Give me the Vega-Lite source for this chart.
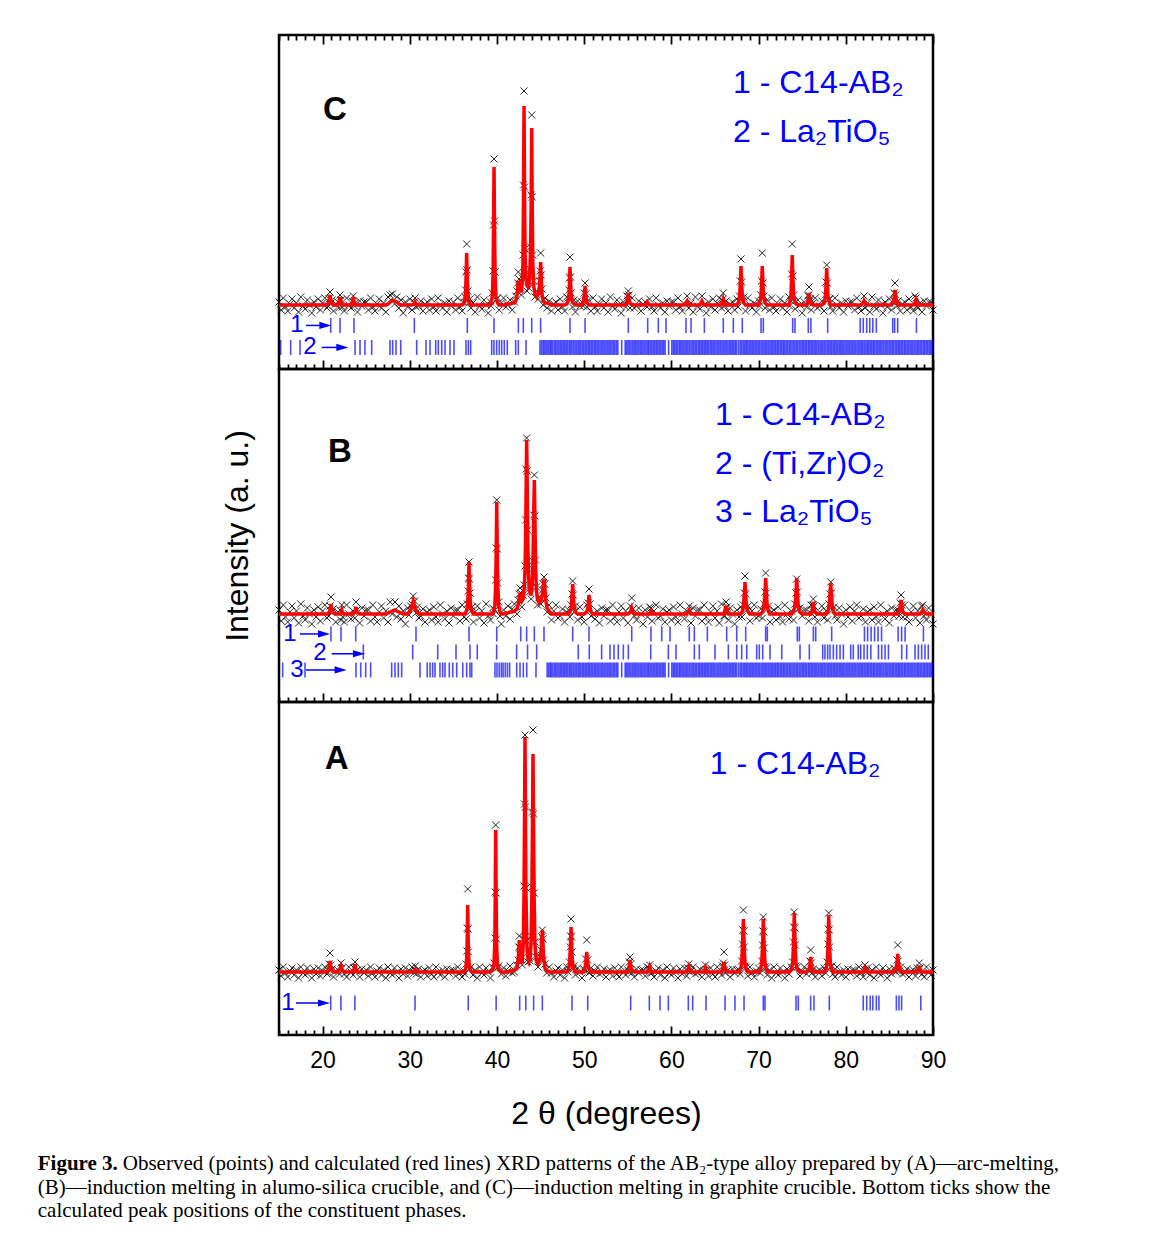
{
"$schema": "https://vega.github.io/schema/vega-lite/v6.json",
"background": "white",
"padding": {"left": 37, "top": 32, "right": 10, "bottom": 10},
"title": {
  "text": "Figure 3.",
  "subtitle": ["(B)\u2014induction melting in alumo-silica crucible, and (C)\u2014induction melting in graphite crucible. Bottom ticks show the", "calculated peak positions of the constituent phases."],
  "orient": "bottom", "anchor": "start", "frame": "bounds",
  "font": "Liberation Serif", "fontSize": 21, "fontWeight": "bold", "color": "#000",
  "subtitleFont": "Liberation Serif", "subtitleFontSize": 21, "subtitleColor": "#000", "subtitleFontWeight": "normal",
  "subtitleLineHeight": 23.5, "subtitlePadding": 2.5,
  "dx": -85, "offset": -21
},
"vconcat": [
{
"spacing": 0,
"bounds": "flush",
"title": {
  "text": "Observed (points) and calculated (red lines) XRD patterns of the AB\u2082-type alloy prepared by (A)\u2014arc-melting,",
  "orient": "bottom", "anchor": "start", "frame": "bounds",
  "font": "Liberation Serif", "fontSize": 21, "fontWeight": "normal", "color": "#000",
  "dx": -97, "offset": 23
},
"vconcat": [
{
  "width": 654, "height": 334,
  "resolve": {"scale": {"y": "independent"}, "axis": {"x": "independent"}},
  "layer": [
    {"data": {"name": "pC"}, "mark": {"type": "point", "shape": "M-1,-1L1,1M-1,1L1,-1", "filled": false, "size": 50, "color": "#000", "strokeWidth": 1, "opacity": 0.85},
     "encoding": {"x": {"field": "x", "type": "quantitative", "scale": {"domain": [15, 90], "nice": false, "zero": false},
        "axis": {"orient": "bottom", "values": [15,16,17,18,19,20,21,22,23,24,25,26,27,28,29,30,31,32,33,34,35,36,37,38,39,40,41,42,43,44,45,46,47,48,49,50,51,52,53,54,55,56,57,58,59,60,61,62,63,64,65,66,67,68,69,70,71,72,73,74,75,76,77,78,79,80,81,82,83,84,85,86,87,88,89,90],
          "tickSize": {"condition": {"test": "datum.value % 10 === 0", "value": -9}, "value": -5}, "labels": false, "title": null}},
       "y": {"field": "o", "type": "quantitative", "scale": {"domain": [-64, 270], "nice": false, "zero": false}, "axis": null}}},
    {"data": {"name": "pC"}, "mark": {"type": "line", "color": "#ff0000", "strokeWidth": 3.5},
     "encoding": {"x": {"field": "x", "type": "quantitative", "scale": {"domain": [15, 90], "nice": false, "zero": false}, "axis": null},
       "y": {"field": "c", "type": "quantitative", "scale": {"domain": [-64, 270], "nice": false, "zero": false}, "axis": null}}},
    {"data": {"values": [{}]}, "mark": {"type": "text", "text": "C", "fontSize": 33, "fontWeight": "bold", "color": "#000", "align": "center", "baseline": "alphabetic"},
     "encoding": {"x": {"datum": 21.42, "type": "quantitative", "axis": null}, "y": {"datum": 185, "type": "quantitative", "scale": {"domain": [-64, 270], "nice": false, "zero": false}, "axis": null}}},
    {"data": {"values": [{}]}, "mark": {"type": "text", "text": ["1 - C14-AB\u2082", "2 - La\u2082TiO\u2085"], "fontSize": 32, "color": "#0000ff", "align": "left", "baseline": "alphabetic", "lineHeight": 48.5},
     "encoding": {"x": {"datum": 67.06, "type": "quantitative", "axis": null}, "y": {"datum": 211.7, "type": "quantitative", "scale": {"domain": [-64, 270], "nice": false, "zero": false}, "axis": null}}},
    {"data": {"name": "tC"}, "mark": {"type": "tick", "orient": "vertical", "size": 15, "thickness": 1.6, "color": "#0000ff"},
     "encoding": {"x": {"field": "x", "type": "quantitative", "scale": {"domain": [15, 90], "nice": false, "zero": false},
        "axis": {"orient": "top", "values": [15,16,17,18,19,20,21,22,23,24,25,26,27,28,29,30,31,32,33,34,35,36,37,38,39,40,41,42,43,44,45,46,47,48,49,50,51,52,53,54,55,56,57,58,59,60,61,62,63,64,65,66,67,68,69,70,71,72,73,74,75,76,77,78,79,80,81,82,83,84,85,86,87,88,89,90],
          "tickSize": {"condition": {"test": "datum.value % 10 === 0", "value": -9}, "value": -5}, "labels": false, "title": null}},
       "y": {"field": "p", "type": "quantitative", "scale": {"domain": [-12.2, 2.98], "reverse": true, "nice": false, "zero": false}, "axis": null}}},
    {"data": {"values": [{}]}, "mark": {"type": "text", "text": "1", "fontSize": 24, "color": "#0000ff", "align": "center", "baseline": "middle"},
     "encoding": {"x": {"datum": 17.06, "type": "quantitative", "axis": null}, "y": {"datum": 1, "type": "quantitative", "scale": {"domain": [-12.2, 2.98], "reverse": true, "nice": false, "zero": false}, "axis": null}}},
    {"data": {"values": [{}]}, "mark": {"type": "rule", "color": "#0000ff", "strokeWidth": 1.5},
     "encoding": {"x": {"datum": 18.1, "type": "quantitative", "axis": null}, "x2": {"datum": 20.4}, "y": {"datum": 1, "type": "quantitative", "scale": {"domain": [-12.2, 2.98], "reverse": true, "nice": false, "zero": false}, "axis": null}}},
    {"data": {"values": [{}]}, "mark": {"type": "point", "shape": "M-1,-0.6L1,0L-1,0.6Z", "filled": true, "size": 144, "color": "#0000ff", "opacity": 1},
     "encoding": {"x": {"datum": 20.31, "type": "quantitative", "axis": null}, "y": {"datum": 1, "type": "quantitative", "scale": {"domain": [-12.2, 2.98], "reverse": true, "nice": false, "zero": false}, "axis": null}}},
    {"data": {"values": [{}]}, "mark": {"type": "text", "text": "2", "fontSize": 24, "color": "#0000ff", "align": "center", "baseline": "middle"},
     "encoding": {"x": {"datum": 18.55, "type": "quantitative", "axis": null}, "y": {"datum": 2, "type": "quantitative", "scale": {"domain": [-12.2, 2.98], "reverse": true, "nice": false, "zero": false}, "axis": null}}},
    {"data": {"values": [{}]}, "mark": {"type": "rule", "color": "#0000ff", "strokeWidth": 1.5},
     "encoding": {"x": {"datum": 19.9, "type": "quantitative", "axis": null}, "x2": {"datum": 22.3}, "y": {"datum": 2, "type": "quantitative", "scale": {"domain": [-12.2, 2.98], "reverse": true, "nice": false, "zero": false}, "axis": null}}},
    {"data": {"values": [{}]}, "mark": {"type": "point", "shape": "M-1,-0.6L1,0L-1,0.6Z", "filled": true, "size": 144, "color": "#0000ff", "opacity": 1},
     "encoding": {"x": {"datum": 22.26, "type": "quantitative", "axis": null}, "y": {"datum": 2, "type": "quantitative", "scale": {"domain": [-12.2, 2.98], "reverse": true, "nice": false, "zero": false}, "axis": null}}}
  ]
},
{
  "width": 654, "height": 333,
  "resolve": {"scale": {"y": "independent"}, "axis": {"x": "independent"}},
  "layer": [
    {"data": {"name": "pB"}, "mark": {"type": "point", "shape": "M-1,-1L1,1M-1,1L1,-1", "filled": false, "size": 50, "color": "#000", "strokeWidth": 1, "opacity": 0.85},
     "encoding": {"x": {"field": "x", "type": "quantitative", "scale": {"domain": [15, 90], "nice": false, "zero": false},
        "axis": {"orient": "bottom", "values": [15,16,17,18,19,20,21,22,23,24,25,26,27,28,29,30,31,32,33,34,35,36,37,38,39,40,41,42,43,44,45,46,47,48,49,50,51,52,53,54,55,56,57,58,59,60,61,62,63,64,65,66,67,68,69,70,71,72,73,74,75,76,77,78,79,80,81,82,83,84,85,86,87,88,89,90],
          "tickSize": {"condition": {"test": "datum.value % 10 === 0", "value": -9}, "value": -5}, "labels": false, "title": null}},
       "y": {"field": "o", "type": "quantitative", "scale": {"domain": [-88, 245], "nice": false, "zero": false},
         "axis": {"title": "Intensity (a. u.)", "ticks": false, "labels": false, "domain": false, "grid": false, "titleFontSize": 32, "titlePadding": 25, "titleFontWeight": "normal", "titleColor": "#000", "titleFont": "Liberation Sans"}}}},
    {"data": {"name": "pB"}, "mark": {"type": "line", "color": "#ff0000", "strokeWidth": 3.5},
     "encoding": {"x": {"field": "x", "type": "quantitative", "scale": {"domain": [15, 90], "nice": false, "zero": false}, "axis": null},
       "y": {"field": "c", "type": "quantitative", "scale": {"domain": [-88, 245], "nice": false, "zero": false}, "axis": null}}},
    {"data": {"values": [{}]}, "mark": {"type": "text", "text": "B", "fontSize": 33, "fontWeight": "bold", "color": "#000", "align": "center", "baseline": "alphabetic"},
     "encoding": {"x": {"datum": 22.0, "type": "quantitative", "axis": null}, "y": {"datum": 152.3, "type": "quantitative", "scale": {"domain": [-88, 245], "nice": false, "zero": false}, "axis": null}}},
    {"data": {"values": [{}]}, "mark": {"type": "text", "text": ["1 - C14-AB\u2082", "2 - (Ti,Zr)O\u2082", "3 - La\u2082TiO\u2085"], "fontSize": 32, "color": "#0000ff", "align": "left", "baseline": "alphabetic", "lineHeight": 48.5},
     "encoding": {"x": {"datum": 65.0, "type": "quantitative", "axis": null}, "y": {"datum": 189, "type": "quantitative", "scale": {"domain": [-88, 245], "nice": false, "zero": false}, "axis": null}}},
    {"data": {"name": "tB"}, "mark": {"type": "tick", "orient": "vertical", "size": 15, "thickness": 1.6, "color": "#0000ff"},
     "encoding": {"x": {"field": "x", "type": "quantitative", "scale": {"domain": [15, 90], "nice": false, "zero": false}, "axis": null},
       "y": {"field": "p", "type": "quantitative", "scale": {"domain": [-13.72, 4.78], "reverse": true, "nice": false, "zero": false}, "axis": null}}},
    {"data": {"values": [{}]}, "mark": {"type": "text", "text": "1", "fontSize": 24, "color": "#0000ff", "align": "center", "baseline": "middle"},
     "encoding": {"x": {"datum": 16.26, "type": "quantitative", "axis": null}, "y": {"datum": 1, "type": "quantitative", "scale": {"domain": [-13.72, 4.78], "reverse": true, "nice": false, "zero": false}, "axis": null}}},
    {"data": {"values": [{}]}, "mark": {"type": "rule", "color": "#0000ff", "strokeWidth": 1.5},
     "encoding": {"x": {"datum": 17.4, "type": "quantitative", "axis": null}, "x2": {"datum": 20.2}, "y": {"datum": 1, "type": "quantitative", "scale": {"domain": [-13.72, 4.78], "reverse": true, "nice": false, "zero": false}, "axis": null}}},
    {"data": {"values": [{}]}, "mark": {"type": "point", "shape": "M-1,-0.6L1,0L-1,0.6Z", "filled": true, "size": 144, "color": "#0000ff", "opacity": 1},
     "encoding": {"x": {"datum": 20.16, "type": "quantitative", "axis": null}, "y": {"datum": 1, "type": "quantitative", "scale": {"domain": [-13.72, 4.78], "reverse": true, "nice": false, "zero": false}, "axis": null}}},
    {"data": {"values": [{}]}, "mark": {"type": "text", "text": "2", "fontSize": 24, "color": "#0000ff", "align": "center", "baseline": "middle"},
     "encoding": {"x": {"datum": 19.7, "type": "quantitative", "axis": null}, "y": {"datum": 2.05, "type": "quantitative", "scale": {"domain": [-13.72, 4.78], "reverse": true, "nice": false, "zero": false}, "axis": null}}},
    {"data": {"values": [{}]}, "mark": {"type": "rule", "color": "#0000ff", "strokeWidth": 1.5},
     "encoding": {"x": {"datum": 21.04, "type": "quantitative", "axis": null}, "x2": {"datum": 24.2}, "y": {"datum": 2.1, "type": "quantitative", "scale": {"domain": [-13.72, 4.78], "reverse": true, "nice": false, "zero": false}, "axis": null}}},
    {"data": {"values": [{}]}, "mark": {"type": "point", "shape": "M-1,-0.6L1,0L-1,0.6Z", "filled": true, "size": 144, "color": "#0000ff", "opacity": 1},
     "encoding": {"x": {"datum": 24.17, "type": "quantitative", "axis": null}, "y": {"datum": 2.1, "type": "quantitative", "scale": {"domain": [-13.72, 4.78], "reverse": true, "nice": false, "zero": false}, "axis": null}}},
    {"data": {"values": [{}]}, "mark": {"type": "text", "text": "3", "fontSize": 24, "color": "#0000ff", "align": "center", "baseline": "middle"},
     "encoding": {"x": {"datum": 17.06, "type": "quantitative", "axis": null}, "y": {"datum": 3, "type": "quantitative", "scale": {"domain": [-13.72, 4.78], "reverse": true, "nice": false, "zero": false}, "axis": null}}},
    {"data": {"values": [{}]}, "mark": {"type": "rule", "color": "#0000ff", "strokeWidth": 1.5},
     "encoding": {"x": {"datum": 18.1, "type": "quantitative", "axis": null}, "x2": {"datum": 22.1}, "y": {"datum": 3, "type": "quantitative", "scale": {"domain": [-13.72, 4.78], "reverse": true, "nice": false, "zero": false}, "axis": null}}},
    {"data": {"values": [{}]}, "mark": {"type": "point", "shape": "M-1,-0.6L1,0L-1,0.6Z", "filled": true, "size": 144, "color": "#0000ff", "opacity": 1},
     "encoding": {"x": {"datum": 22.07, "type": "quantitative", "axis": null}, "y": {"datum": 3, "type": "quantitative", "scale": {"domain": [-13.72, 4.78], "reverse": true, "nice": false, "zero": false}, "axis": null}}}
  ]
},
{
  "width": 654, "height": 333,
  "resolve": {"scale": {"y": "independent"}, "axis": {"x": "independent"}},
  "layer": [
    {"data": {"name": "pA"}, "mark": {"type": "point", "shape": "M-1,-1L1,1M-1,1L1,-1", "filled": false, "size": 50, "color": "#000", "strokeWidth": 1, "opacity": 0.85},
     "encoding": {"x": {"field": "x", "type": "quantitative", "scale": {"domain": [15, 90], "nice": false, "zero": false},
        "axis": {"orient": "bottom", "values": [15,16,17,18,19,20,21,22,23,24,25,26,27,28,29,30,31,32,33,34,35,36,37,38,39,40,41,42,43,44,45,46,47,48,49,50,51,52,53,54,55,56,57,58,59,60,61,62,63,64,65,66,67,68,69,70,71,72,73,74,75,76,77,78,79,80,81,82,83,84,85,86,87,88,89,90],
          "tickSize": {"condition": {"test": "datum.value % 10 === 0", "value": -9}, "value": -5},
          "labelExpr": "datum.value % 10 === 0 ? datum.label : ''", "labelOverlap": false, "labelFlush": false,
          "labelFont": "Liberation Sans", "labelFontSize": 23, "labelPadding": 23,
          "title": "2 \u03b8 (degrees)", "titleFont": "Liberation Sans", "titleFontSize": 32, "titleFontWeight": "normal", "titlePadding": 22}},
       "y": {"field": "o", "type": "quantitative", "scale": {"domain": [-63, 270], "nice": false, "zero": false}, "axis": null}}},
    {"data": {"name": "pA"}, "mark": {"type": "line", "color": "#ff0000", "strokeWidth": 3.5},
     "encoding": {"x": {"field": "x", "type": "quantitative", "scale": {"domain": [15, 90], "nice": false, "zero": false}, "axis": null},
       "y": {"field": "c", "type": "quantitative", "scale": {"domain": [-63, 270], "nice": false, "zero": false}, "axis": null}}},
    {"data": {"values": [{}]}, "mark": {"type": "text", "text": "A", "fontSize": 33, "fontWeight": "bold", "color": "#000", "align": "center", "baseline": "alphabetic"},
     "encoding": {"x": {"datum": 21.62, "type": "quantitative", "axis": null}, "y": {"datum": 202.7, "type": "quantitative", "scale": {"domain": [-63, 270], "nice": false, "zero": false}, "axis": null}}},
    {"data": {"values": [{}]}, "mark": {"type": "text", "text": "1 - C14-AB\u2082", "fontSize": 32, "color": "#0000ff", "align": "left", "baseline": "alphabetic"},
     "encoding": {"x": {"datum": 64.4, "type": "quantitative", "axis": null}, "y": {"datum": 198.4, "type": "quantitative", "scale": {"domain": [-63, 270], "nice": false, "zero": false}, "axis": null}}},
    {"data": {"name": "tA"}, "mark": {"type": "tick", "orient": "vertical", "size": 15, "thickness": 1.6, "color": "#0000ff"},
     "encoding": {"x": {"field": "x", "type": "quantitative", "scale": {"domain": [15, 90], "nice": false, "zero": false}, "axis": null},
       "y": {"field": "p", "type": "quantitative", "scale": {"domain": [-14.05, 2.6], "reverse": true, "nice": false, "zero": false}, "axis": null}}},
    {"data": {"values": [{}]}, "mark": {"type": "text", "text": "1", "fontSize": 24, "color": "#0000ff", "align": "center", "baseline": "middle"},
     "encoding": {"x": {"datum": 16.03, "type": "quantitative", "axis": null}, "y": {"datum": 1, "type": "quantitative", "scale": {"domain": [-14.05, 2.6], "reverse": true, "nice": false, "zero": false}, "axis": null}}},
    {"data": {"values": [{}]}, "mark": {"type": "rule", "color": "#0000ff", "strokeWidth": 1.5},
     "encoding": {"x": {"datum": 16.95, "type": "quantitative", "axis": null}, "x2": {"datum": 20.2}, "y": {"datum": 1, "type": "quantitative", "scale": {"domain": [-14.05, 2.6], "reverse": true, "nice": false, "zero": false}, "axis": null}}},
    {"data": {"values": [{}]}, "mark": {"type": "point", "shape": "M-1,-0.6L1,0L-1,0.6Z", "filled": true, "size": 144, "color": "#0000ff", "opacity": 1},
     "encoding": {"x": {"datum": 20.16, "type": "quantitative", "axis": null}, "y": {"datum": 1, "type": "quantitative", "scale": {"domain": [-14.05, 2.6], "reverse": true, "nice": false, "zero": false}, "axis": null}}}
  ]
}
]
}
],
"datasets": {
"pC": [{"x":15,"c":0,"o":3},{"x":15.25,"c":0,"o":-5},{"x":15.5,"c":0,"o":7},{"x":15.75,"c":0,"o":-2},{"x":16,"c":0,"o":-6},{"x":16.25,"c":0,"o":1},{"x":16.5,"c":0,"o":6},{"x":16.75,"c":0,"o":-3},{"x":17,"c":0,"o":2},{"x":17.25,"c":0,"o":-7},{"x":17.5,"c":0,"o":8},{"x":17.75,"c":0,"o":-1},{"x":18,"c":0,"o":-4},{"x":18.25,"c":0,"o":5},{"x":18.5,"c":0,"o":0},{"x":18.75,"c":0,"o":-8},{"x":19,"c":0,"o":3},{"x":19.25,"c":0,"o":-2},{"x":19.5,"c":0,"o":6},{"x":19.75,"c":0,"o":-5},{"x":20,"c":0,"o":2},{"x":20.25,"c":0,"o":7},{"x":20.5,"c":0,"o":-3},{"x":20.6,"c":1,"o":-1},{"x":20.75,"c":4,"o":6},{"x":20.85,"c":10,"o":13},{"x":20.95,"c":4,"o":2},{"x":21.1,"c":1,"o":5},{"x":21.25,"c":0,"o":-6},{"x":21.5,"c":0,"o":1},{"x":21.75,"c":0,"o":3},{"x":21.85,"c":2,"o":-3},{"x":22,"c":8,"o":10},{"x":22.15,"c":2,"o":5},{"x":22.25,"c":0,"o":-2},{"x":22.5,"c":0,"o":-6},{"x":22.75,"c":0,"o":7},{"x":23,"c":0,"o":0},{"x":23.25,"c":0,"o":-3},{"x":23.4,"c":2,"o":4},{"x":23.52,"c":8,"o":9},{"x":23.65,"c":2,"o":-1},{"x":23.75,"c":0,"o":2},{"x":24,"c":0,"o":-7},{"x":24.25,"c":0,"o":4},{"x":24.5,"c":0,"o":-1},{"x":24.75,"c":0,"o":3},{"x":25,"c":0,"o":3},{"x":25.25,"c":0,"o":-5},{"x":25.5,"c":0,"o":7},{"x":25.75,"c":0,"o":-2},{"x":26,"c":0,"o":-6},{"x":26.25,"c":0,"o":1},{"x":26.5,"c":0,"o":6},{"x":26.75,"c":0,"o":-3},{"x":27,"c":0,"o":2},{"x":27.25,"c":0,"o":-7},{"x":27.5,"c":1,"o":8},{"x":27.75,"c":3,"o":10},{"x":28,"c":5,"o":11},{"x":28.25,"c":4,"o":1},{"x":28.5,"c":3,"o":8},{"x":28.75,"c":1,"o":-3},{"x":29,"c":0,"o":5},{"x":29.25,"c":0,"o":-8},{"x":29.5,"c":0,"o":3},{"x":29.75,"c":0,"o":-2},{"x":30,"c":0,"o":6},{"x":30.25,"c":0,"o":-5},{"x":30.5,"c":1,"o":3},{"x":30.6,"c":3,"o":7},{"x":30.75,"c":1,"o":-2},{"x":31,"c":0,"o":-1},{"x":31.25,"c":0,"o":4},{"x":31.5,"c":0,"o":-6},{"x":31.75,"c":0,"o":1},{"x":32,"c":0,"o":3},{"x":32.25,"c":0,"o":-5},{"x":32.5,"c":0,"o":6},{"x":32.75,"c":0,"o":-2},{"x":33,"c":0,"o":-6},{"x":33.25,"c":0,"o":7},{"x":33.5,"c":0,"o":0},{"x":33.75,"c":0,"o":-3},{"x":34,"c":0,"o":2},{"x":34.25,"c":0,"o":-7},{"x":34.5,"c":0,"o":4},{"x":34.75,"c":0,"o":-1},{"x":35,"c":0,"o":3},{"x":35.25,"c":0,"o":-5},{"x":35.5,"c":0,"o":7},{"x":35.75,"c":0,"o":-2},{"x":36,"c":0,"o":-6},{"x":36.15,"c":1,"o":3},{"x":36.3,"c":4,"o":8},{"x":36.4,"c":13,"o":15},{"x":36.46,"c":30,"o":33},{"x":36.52,"c":52,"o":61},{"x":36.58,"c":30,"o":35},{"x":36.65,"c":12,"o":14},{"x":36.75,"c":4,"o":2},{"x":36.9,"c":1,"o":6},{"x":37,"c":0,"o":-3},{"x":37.25,"c":0,"o":2},{"x":37.5,"c":0,"o":-7},{"x":37.75,"c":0,"o":8},{"x":38,"c":0,"o":-1},{"x":38.25,"c":0,"o":-4},{"x":38.5,"c":0,"o":5},{"x":38.75,"c":0,"o":0},{"x":39,"c":0,"o":-8},{"x":39.25,"c":0,"o":3},{"x":39.3,"c":2,"o":-1},{"x":39.45,"c":8,"o":12},{"x":39.55,"c":30,"o":34},{"x":39.6,"c":75,"o":80},{"x":39.66,"c":138,"o":146},{"x":39.72,"c":75,"o":84},{"x":39.78,"c":30,"o":33},{"x":39.88,"c":8,"o":5},{"x":40.05,"c":2,"o":7},{"x":40.25,"c":0,"o":-5},{"x":40.5,"c":0,"o":2},{"x":40.75,"c":0,"o":7},{"x":41,"c":1,"o":-2},{"x":41.25,"c":1,"o":0},{"x":41.5,"c":1,"o":5},{"x":41.75,"c":2,"o":-5},{"x":42,"c":2,"o":3},{"x":42.15,"c":4,"o":9},{"x":42.3,"c":10,"o":14},{"x":42.38,"c":18,"o":22},{"x":42.44,"c":24,"o":33},{"x":42.52,"c":22,"o":26},{"x":42.65,"c":14,"o":18},{"x":42.8,"c":14,"o":10},{"x":42.9,"c":22,"o":27},{"x":42.98,"c":45,"o":50},{"x":43.04,"c":110,"o":120},{"x":43.1,"c":199,"o":214},{"x":43.16,"c":110,"o":118},{"x":43.22,"c":50,"o":56},{"x":43.3,"c":28,"o":30},{"x":43.45,"c":19,"o":14},{"x":43.55,"c":18,"o":24},{"x":43.65,"c":20,"o":17},{"x":43.75,"c":30,"o":36},{"x":43.84,"c":52,"o":58},{"x":43.92,"c":100,"o":110},{"x":43.98,"c":177,"o":190},{"x":44.04,"c":100,"o":108},{"x":44.1,"c":45,"o":50},{"x":44.2,"c":20,"o":24},{"x":44.35,"c":11,"o":8},{"x":44.55,"c":8,"o":14},{"x":44.75,"c":11,"o":6},{"x":44.88,"c":20,"o":24},{"x":44.95,"c":30,"o":34},{"x":45.01,"c":43,"o":52},{"x":45.07,"c":28,"o":30},{"x":45.15,"c":12,"o":16},{"x":45.3,"c":4,"o":0},{"x":45.5,"c":2,"o":7},{"x":45.75,"c":2,"o":-3},{"x":46,"c":1,"o":4},{"x":46.25,"c":0,"o":-6},{"x":46.5,"c":0,"o":1},{"x":46.75,"c":0,"o":3},{"x":47,"c":0,"o":-5},{"x":47.25,"c":0,"o":6},{"x":47.5,"c":0,"o":-2},{"x":47.75,"c":0,"o":-6},{"x":48,"c":1,"o":8},{"x":48.15,"c":4,"o":7},{"x":48.27,"c":12,"o":15},{"x":48.32,"c":24,"o":27},{"x":48.37,"c":38,"o":48},{"x":48.43,"c":24,"o":28},{"x":48.5,"c":10,"o":12},{"x":48.65,"c":3,"o":-2},{"x":48.85,"c":1,"o":5},{"x":49,"c":0,"o":-7},{"x":49.25,"c":0,"o":4},{"x":49.5,"c":0,"o":-1},{"x":49.75,"c":0,"o":3},{"x":49.9,"c":3,"o":-1},{"x":50,"c":9,"o":12},{"x":50.09,"c":19,"o":22},{"x":50.18,"c":9,"o":11},{"x":50.3,"c":3,"o":-2},{"x":50.5,"c":0,"o":5},{"x":50.75,"c":0,"o":-6},{"x":51,"c":0,"o":7},{"x":51.25,"c":0,"o":-2},{"x":51.5,"c":0,"o":-6},{"x":51.75,"c":0,"o":1},{"x":52,"c":0,"o":6},{"x":52.25,"c":0,"o":-3},{"x":52.5,"c":0,"o":2},{"x":52.75,"c":0,"o":-7},{"x":53,"c":0,"o":8},{"x":53.25,"c":0,"o":-1},{"x":53.5,"c":0,"o":-4},{"x":53.75,"c":0,"o":5},{"x":54,"c":0,"o":0},{"x":54.25,"c":0,"o":-8},{"x":54.5,"c":0,"o":3},{"x":54.75,"c":0,"o":-2},{"x":54.9,"c":3,"o":9},{"x":55,"c":7,"o":5},{"x":55.06,"c":12,"o":14},{"x":55.13,"c":6,"o":10},{"x":55.25,"c":2,"o":-3},{"x":55.5,"c":0,"o":7},{"x":55.75,"c":0,"o":-3},{"x":56,"c":0,"o":-1},{"x":56.25,"c":0,"o":4},{"x":56.5,"c":0,"o":-6},{"x":56.75,"c":0,"o":1},{"x":57,"c":0,"o":3},{"x":57.2,"c":3,"o":-2},{"x":57.5,"c":0,"o":6},{"x":57.75,"c":0,"o":-2},{"x":58,"c":0,"o":-6},{"x":58.25,"c":0,"o":7},{"x":58.5,"c":0,"o":0},{"x":58.75,"c":0,"o":-3},{"x":59,"c":0,"o":2},{"x":59.25,"c":0,"o":-7},{"x":59.5,"c":0,"o":4},{"x":59.75,"c":0,"o":-1},{"x":60,"c":0,"o":3},{"x":60.25,"c":0,"o":3},{"x":60.5,"c":0,"o":-5},{"x":60.75,"c":0,"o":7},{"x":61,"c":0,"o":-2},{"x":61.25,"c":0,"o":-6},{"x":61.5,"c":0,"o":1},{"x":61.8,"c":4,"o":9},{"x":62,"c":0,"o":-3},{"x":62.25,"c":0,"o":2},{"x":62.5,"c":0,"o":-7},{"x":62.75,"c":0,"o":8},{"x":63,"c":0,"o":-1},{"x":63.25,"c":0,"o":-4},{"x":63.5,"c":4,"o":9},{"x":63.75,"c":0,"o":0},{"x":64,"c":0,"o":-8},{"x":64.25,"c":0,"o":3},{"x":64.5,"c":0,"o":-2},{"x":64.75,"c":0,"o":6},{"x":65,"c":0,"o":-5},{"x":65.25,"c":0,"o":2},{"x":65.5,"c":0,"o":7},{"x":65.75,"c":0,"o":-3},{"x":65.8,"c":2,"o":5},{"x":65.95,"c":6,"o":12},{"x":66.1,"c":2,"o":-1},{"x":66.25,"c":0,"o":4},{"x":66.5,"c":0,"o":-6},{"x":66.75,"c":0,"o":1},{"x":67,"c":0,"o":3},{"x":67.25,"c":0,"o":-5},{"x":67.5,"c":0,"o":6},{"x":67.65,"c":2,"o":-2},{"x":67.8,"c":6,"o":9},{"x":67.9,"c":20,"o":24},{"x":67.98,"c":39,"o":46},{"x":68.06,"c":20,"o":23},{"x":68.15,"c":7,"o":4},{"x":68.3,"c":2,"o":8},{"x":68.5,"c":0,"o":-6},{"x":68.75,"c":0,"o":7},{"x":69,"c":0,"o":0},{"x":69.25,"c":0,"o":-3},{"x":69.5,"c":0,"o":2},{"x":69.75,"c":0,"o":-7},{"x":70,"c":0,"o":4},{"x":70.1,"c":2,"o":-1},{"x":70.25,"c":7,"o":10},{"x":70.34,"c":20,"o":24},{"x":70.42,"c":39,"o":52},{"x":70.5,"c":20,"o":22},{"x":70.6,"c":7,"o":9},{"x":70.75,"c":2,"o":-3},{"x":71,"c":0,"o":5},{"x":71.25,"c":0,"o":-5},{"x":71.5,"c":0,"o":7},{"x":71.75,"c":0,"o":-2},{"x":72,"c":0,"o":-6},{"x":72.25,"c":0,"o":1},{"x":72.5,"c":0,"o":6},{"x":72.75,"c":0,"o":-3},{"x":73,"c":0,"o":2},{"x":73.25,"c":0,"o":-7},{"x":73.5,"c":0,"o":8},{"x":73.55,"c":2,"o":-1},{"x":73.7,"c":8,"o":4},{"x":73.78,"c":26,"o":31},{"x":73.86,"c":50,"o":61},{"x":73.94,"c":26,"o":29},{"x":74.03,"c":8,"o":10},{"x":74.2,"c":2,"o":-4},{"x":74.5,"c":0,"o":5},{"x":74.75,"c":0,"o":0},{"x":75,"c":0,"o":-8},{"x":75.25,"c":0,"o":3},{"x":75.5,"c":0,"o":-2},{"x":75.65,"c":3,"o":9},{"x":75.72,"c":7,"o":10},{"x":75.78,"c":12,"o":18},{"x":75.85,"c":6,"o":4},{"x":75.95,"c":2,"o":6},{"x":76.05,"c":1,"o":-5},{"x":76.25,"c":0,"o":2},{"x":76.5,"c":0,"o":7},{"x":76.75,"c":0,"o":-3},{"x":77,"c":0,"o":-1},{"x":77.25,"c":0,"o":4},{"x":77.5,"c":2,"o":-6},{"x":77.65,"c":7,"o":10},{"x":77.73,"c":19,"o":23},{"x":77.81,"c":37,"o":40},{"x":77.89,"c":19,"o":22},{"x":77.98,"c":7,"o":5},{"x":78.15,"c":2,"o":6},{"x":78.25,"c":0,"o":-2},{"x":78.5,"c":0,"o":-6},{"x":78.75,"c":0,"o":7},{"x":79,"c":0,"o":0},{"x":79.25,"c":0,"o":-3},{"x":79.5,"c":0,"o":2},{"x":79.75,"c":0,"o":-7},{"x":80,"c":0,"o":4},{"x":80.25,"c":0,"o":-1},{"x":80.5,"c":0,"o":3},{"x":80.75,"c":0,"o":3},{"x":81,"c":0,"o":-5},{"x":81.25,"c":0,"o":7},{"x":81.5,"c":0,"o":-2},{"x":81.75,"c":0,"o":-6},{"x":82,"c":2,"o":1},{"x":82.09,"c":4,"o":9},{"x":82.2,"c":2,"o":-3},{"x":82.5,"c":0,"o":2},{"x":82.75,"c":0,"o":-7},{"x":83,"c":0,"o":8},{"x":83.25,"c":0,"o":-1},{"x":83.5,"c":0,"o":-4},{"x":83.75,"c":0,"o":5},{"x":84,"c":0,"o":0},{"x":84.25,"c":0,"o":-8},{"x":84.5,"c":0,"o":3},{"x":84.75,"c":0,"o":-2},{"x":85,"c":0,"o":6},{"x":85.25,"c":0,"o":-5},{"x":85.45,"c":3,"o":5},{"x":85.56,"c":8,"o":12},{"x":85.64,"c":15,"o":22},{"x":85.72,"c":8,"o":10},{"x":85.85,"c":3,"o":-1},{"x":86,"c":0,"o":4},{"x":86.25,"c":0,"o":-6},{"x":86.5,"c":0,"o":1},{"x":86.75,"c":0,"o":3},{"x":87,"c":0,"o":-5},{"x":87.25,"c":0,"o":6},{"x":87.5,"c":0,"o":-2},{"x":87.75,"c":0,"o":-6},{"x":87.95,"c":2,"o":9},{"x":88.05,"c":5,"o":7},{"x":88.15,"c":2,"o":-1},{"x":88.25,"c":0,"o":-3},{"x":88.5,"c":0,"o":2},{"x":88.75,"c":0,"o":-7},{"x":89,"c":0,"o":4},{"x":89.25,"c":0,"o":-1},{"x":89.5,"c":0,"o":3},{"x":89.75,"c":0,"o":3},{"x":90,"c":0,"o":-5}],
"pB": [{"x":15,"c":0,"o":4},{"x":15.25,"c":0,"o":-7},{"x":15.5,"c":0,"o":9},{"x":15.75,"c":0,"o":-3},{"x":16,"c":0,"o":-8},{"x":16.25,"c":0,"o":2},{"x":16.5,"c":0,"o":8},{"x":16.75,"c":0,"o":-4},{"x":17,"c":0,"o":3},{"x":17.25,"c":0,"o":-9},{"x":17.5,"c":0,"o":10},{"x":17.75,"c":0,"o":-2},{"x":18,"c":0,"o":-6},{"x":18.25,"c":0,"o":6},{"x":18.5,"c":0,"o":0},{"x":18.75,"c":0,"o":-10},{"x":19,"c":0,"o":4},{"x":19.25,"c":0,"o":-3},{"x":19.5,"c":0,"o":7},{"x":19.75,"c":0,"o":-7},{"x":20,"c":0,"o":3},{"x":20.25,"c":0,"o":9},{"x":20.5,"c":0,"o":-4},{"x":20.7,"c":1,"o":-2},{"x":20.85,"c":4,"o":8},{"x":20.96,"c":10,"o":17},{"x":21.07,"c":4,"o":2},{"x":21.2,"c":1,"o":5},{"x":21.5,"c":0,"o":-8},{"x":21.75,"c":0,"o":2},{"x":22,"c":0,"o":4},{"x":22.08,"c":1,"o":-6},{"x":22.19,"c":4,"o":9},{"x":22.3,"c":1,"o":-3},{"x":22.5,"c":0,"o":-8},{"x":22.75,"c":0,"o":9},{"x":23,"c":0,"o":0},{"x":23.25,"c":0,"o":-5},{"x":23.5,"c":0,"o":3},{"x":23.7,"c":2,"o":-4},{"x":23.83,"c":7,"o":12},{"x":23.95,"c":2,"o":4},{"x":24.25,"c":0,"o":-9},{"x":24.5,"c":0,"o":6},{"x":24.75,"c":0,"o":-2},{"x":25,"c":0,"o":4},{"x":25.25,"c":0,"o":4},{"x":25.5,"c":0,"o":-7},{"x":25.75,"c":0,"o":9},{"x":26,"c":0,"o":-3},{"x":26.25,"c":0,"o":-8},{"x":26.5,"c":0,"o":2},{"x":26.75,"c":0,"o":8},{"x":27,"c":0,"o":-4},{"x":27.25,"c":0,"o":3},{"x":27.5,"c":1,"o":-8},{"x":27.75,"c":2,"o":12},{"x":28,"c":3,"o":0},{"x":28.3,"c":4,"o":12},{"x":28.5,"c":3,"o":-3},{"x":28.75,"c":2,"o":8},{"x":29,"c":1,"o":-5},{"x":29.25,"c":0,"o":3},{"x":29.5,"c":0,"o":-10},{"x":29.75,"c":0,"o":6},{"x":29.9,"c":2,"o":-1},{"x":30.1,"c":4,"o":8},{"x":30.25,"c":8,"o":10},{"x":30.4,"c":13,"o":18},{"x":30.55,"c":8,"o":13},{"x":30.7,"c":4,"o":1},{"x":30.9,"c":2,"o":7},{"x":31.05,"c":0,"o":-4},{"x":31.25,"c":0,"o":-2},{"x":31.5,"c":0,"o":5},{"x":31.75,"c":0,"o":-8},{"x":32,"c":0,"o":2},{"x":32.25,"c":0,"o":4},{"x":32.5,"c":0,"o":-6},{"x":32.75,"c":0,"o":7},{"x":33,"c":0,"o":-3},{"x":33.25,"c":0,"o":-8},{"x":33.5,"c":0,"o":9},{"x":33.75,"c":0,"o":0},{"x":34,"c":0,"o":-5},{"x":34.25,"c":0,"o":3},{"x":34.5,"c":0,"o":-9},{"x":34.75,"c":0,"o":6},{"x":35,"c":0,"o":-2},{"x":35.25,"c":0,"o":4},{"x":35.5,"c":0,"o":4},{"x":35.75,"c":0,"o":-7},{"x":36,"c":0,"o":9},{"x":36.25,"c":0,"o":-3},{"x":36.45,"c":2,"o":-5},{"x":36.6,"c":6,"o":10},{"x":36.7,"c":20,"o":23},{"x":36.74,"c":33,"o":36},{"x":36.79,"c":52,"o":52},{"x":36.84,"c":33,"o":35},{"x":36.9,"c":18,"o":21},{"x":37,"c":6,"o":3},{"x":37.15,"c":2,"o":7},{"x":37.3,"c":0,"o":-8},{"x":37.5,"c":0,"o":2},{"x":37.75,"c":0,"o":8},{"x":38,"c":0,"o":-4},{"x":38.25,"c":0,"o":3},{"x":38.5,"c":0,"o":-9},{"x":38.75,"c":0,"o":10},{"x":39,"c":0,"o":-2},{"x":39.25,"c":0,"o":-6},{"x":39.5,"c":0,"o":6},{"x":39.6,"c":2,"o":0},{"x":39.75,"c":8,"o":4},{"x":39.85,"c":30,"o":34},{"x":39.91,"c":62,"o":66},{"x":39.97,"c":112,"o":114},{"x":40.03,"c":62,"o":65},{"x":40.09,"c":28,"o":31},{"x":40.2,"c":8,"o":12},{"x":40.35,"c":2,"o":-2},{"x":40.5,"c":0,"o":-10},{"x":40.75,"c":0,"o":4},{"x":41,"c":1,"o":-2},{"x":41.25,"c":1,"o":8},{"x":41.5,"c":2,"o":-5},{"x":41.75,"c":2,"o":5},{"x":42,"c":3,"o":10},{"x":42.3,"c":5,"o":0},{"x":42.45,"c":10,"o":14},{"x":42.56,"c":17,"o":20},{"x":42.64,"c":21,"o":26},{"x":42.72,"c":18,"o":21},{"x":42.85,"c":13,"o":7},{"x":43,"c":15,"o":19},{"x":43.12,"c":26,"o":29},{"x":43.22,"c":45,"o":48},{"x":43.3,"c":90,"o":94},{"x":43.36,"c":140,"o":145},{"x":43.4,"c":174,"o":176},{"x":43.45,"c":140,"o":143},{"x":43.52,"c":80,"o":84},{"x":43.6,"c":42,"o":45},{"x":43.7,"c":26,"o":22},{"x":43.82,"c":20,"o":26},{"x":43.92,"c":20,"o":15},{"x":44.02,"c":28,"o":32},{"x":44.12,"c":50,"o":53},{"x":44.2,"c":95,"o":99},{"x":44.28,"c":134,"o":139},{"x":44.35,"c":95,"o":98},{"x":44.42,"c":50,"o":54},{"x":44.52,"c":24,"o":27},{"x":44.65,"c":14,"o":9},{"x":44.85,"c":11,"o":17},{"x":45.05,"c":14,"o":10},{"x":45.2,"c":20,"o":24},{"x":45.3,"c":28,"o":30},{"x":45.39,"c":35,"o":37},{"x":45.48,"c":27,"o":30},{"x":45.6,"c":13,"o":16},{"x":45.75,"c":6,"o":2},{"x":45.95,"c":3,"o":9},{"x":46.25,"c":0,"o":-6},{"x":46.5,"c":0,"o":3},{"x":46.75,"c":0,"o":9},{"x":47,"c":0,"o":-4},{"x":47.25,"c":0,"o":-2},{"x":47.5,"c":0,"o":5},{"x":47.75,"c":0,"o":-8},{"x":48,"c":0,"o":2},{"x":48.2,"c":0,"o":4},{"x":48.35,"c":2,"o":-3},{"x":48.5,"c":6,"o":9},{"x":48.6,"c":17,"o":20},{"x":48.68,"c":30,"o":33},{"x":48.76,"c":17,"o":19},{"x":48.86,"c":6,"o":2},{"x":49,"c":2,"o":8},{"x":49.25,"c":0,"o":-6},{"x":49.5,"c":0,"o":7},{"x":49.75,"c":0,"o":-3},{"x":50,"c":0,"o":-8},{"x":50.3,"c":2,"o":9},{"x":50.45,"c":7,"o":11},{"x":50.55,"c":19,"o":25},{"x":50.65,"c":7,"o":10},{"x":50.8,"c":2,"o":-2},{"x":51,"c":0,"o":0},{"x":51.25,"c":0,"o":-5},{"x":51.5,"c":0,"o":3},{"x":51.75,"c":0,"o":-9},{"x":52,"c":0,"o":6},{"x":52.25,"c":0,"o":-2},{"x":52.5,"c":0,"o":4},{"x":52.75,"c":0,"o":4},{"x":53,"c":0,"o":-7},{"x":53.25,"c":0,"o":9},{"x":53.5,"c":0,"o":-3},{"x":53.75,"c":0,"o":-8},{"x":54,"c":0,"o":2},{"x":54.25,"c":0,"o":8},{"x":54.5,"c":0,"o":-4},{"x":54.75,"c":0,"o":3},{"x":55,"c":0,"o":-9},{"x":55.3,"c":2,"o":8},{"x":55.45,"c":6,"o":16},{"x":55.6,"c":2,"o":5},{"x":55.75,"c":0,"o":-2},{"x":56,"c":0,"o":-6},{"x":56.25,"c":0,"o":6},{"x":56.5,"c":0,"o":0},{"x":56.75,"c":0,"o":-10},{"x":57,"c":0,"o":4},{"x":57.25,"c":0,"o":-3},{"x":57.5,"c":0,"o":7},{"x":57.66,"c":3,"o":6},{"x":57.8,"c":0,"o":-7},{"x":58,"c":0,"o":3},{"x":58.25,"c":0,"o":9},{"x":58.5,"c":0,"o":-4},{"x":58.75,"c":0,"o":-2},{"x":59,"c":0,"o":5},{"x":59.25,"c":0,"o":-8},{"x":59.5,"c":0,"o":2},{"x":59.75,"c":0,"o":4},{"x":60,"c":0,"o":-6},{"x":60.25,"c":0,"o":7},{"x":60.5,"c":0,"o":-3},{"x":60.75,"c":0,"o":-8},{"x":61,"c":0,"o":9},{"x":61.25,"c":0,"o":0},{"x":61.5,"c":0,"o":-5},{"x":61.75,"c":0,"o":3},{"x":62.05,"c":4,"o":8},{"x":62.25,"c":0,"o":-9},{"x":62.5,"c":0,"o":6},{"x":62.75,"c":0,"o":-2},{"x":63,"c":0,"o":4},{"x":63.25,"c":0,"o":4},{"x":63.5,"c":0,"o":-7},{"x":63.75,"c":0,"o":9},{"x":64,"c":0,"o":-3},{"x":64.25,"c":0,"o":-8},{"x":64.5,"c":0,"o":2},{"x":64.75,"c":0,"o":8},{"x":65,"c":0,"o":-4},{"x":65.25,"c":0,"o":3},{"x":65.5,"c":0,"o":-9},{"x":65.75,"c":0,"o":10},{"x":66,"c":0,"o":-2},{"x":66.12,"c":3,"o":-2},{"x":66.26,"c":8,"o":12},{"x":66.4,"c":3,"o":7},{"x":66.55,"c":0,"o":-6},{"x":66.75,"c":0,"o":6},{"x":67,"c":0,"o":0},{"x":67.25,"c":0,"o":-10},{"x":67.5,"c":0,"o":4},{"x":67.75,"c":0,"o":-3},{"x":67.95,"c":0,"o":7},{"x":68.1,"c":2,"o":-3},{"x":68.25,"c":7,"o":9},{"x":68.36,"c":18,"o":21},{"x":68.44,"c":32,"o":38},{"x":68.52,"c":18,"o":20},{"x":68.62,"c":7,"o":4},{"x":68.8,"c":2,"o":8},{"x":69,"c":0,"o":-7},{"x":69.25,"c":0,"o":3},{"x":69.5,"c":0,"o":9},{"x":69.75,"c":0,"o":-4},{"x":70,"c":0,"o":-2},{"x":70.25,"c":0,"o":5},{"x":70.45,"c":2,"o":-4},{"x":70.6,"c":7,"o":10},{"x":70.72,"c":19,"o":22},{"x":70.81,"c":36,"o":41},{"x":70.9,"c":19,"o":21},{"x":71,"c":7,"o":5},{"x":71.15,"c":2,"o":8},{"x":71.3,"c":0,"o":-8},{"x":71.5,"c":0,"o":2},{"x":71.75,"c":0,"o":4},{"x":72,"c":0,"o":-6},{"x":72.25,"c":0,"o":7},{"x":72.5,"c":0,"o":-3},{"x":72.75,"c":0,"o":-8},{"x":73,"c":0,"o":9},{"x":73.25,"c":0,"o":0},{"x":73.5,"c":0,"o":-5},{"x":73.75,"c":0,"o":3},{"x":74,"c":2,"o":-6},{"x":74.15,"c":7,"o":10},{"x":74.28,"c":19,"o":21},{"x":74.37,"c":36,"o":35},{"x":74.46,"c":19,"o":22},{"x":74.56,"c":7,"o":5},{"x":74.72,"c":2,"o":6},{"x":75,"c":0,"o":-2},{"x":75.25,"c":0,"o":4},{"x":75.5,"c":0,"o":4},{"x":75.75,"c":0,"o":-7},{"x":76,"c":0,"o":9},{"x":76.12,"c":3,"o":0},{"x":76.2,"c":6,"o":9},{"x":76.28,"c":12,"o":15},{"x":76.36,"c":6,"o":8},{"x":76.45,"c":2,"o":-3},{"x":76.75,"c":0,"o":-8},{"x":77,"c":0,"o":2},{"x":77.25,"c":0,"o":8},{"x":77.5,"c":0,"o":-4},{"x":77.75,"c":0,"o":3},{"x":77.92,"c":2,"o":-6},{"x":78.07,"c":7,"o":10},{"x":78.18,"c":18,"o":20},{"x":78.27,"c":31,"o":32},{"x":78.36,"c":18,"o":21},{"x":78.46,"c":7,"o":4},{"x":78.62,"c":2,"o":7},{"x":78.8,"c":0,"o":-2},{"x":79,"c":0,"o":-6},{"x":79.25,"c":0,"o":6},{"x":79.5,"c":0,"o":0},{"x":79.75,"c":0,"o":-10},{"x":80,"c":0,"o":4},{"x":80.25,"c":0,"o":-3},{"x":80.5,"c":0,"o":7},{"x":80.75,"c":0,"o":-7},{"x":81,"c":0,"o":3},{"x":81.25,"c":0,"o":9},{"x":81.5,"c":0,"o":-4},{"x":81.75,"c":0,"o":-2},{"x":82,"c":0,"o":5},{"x":82.25,"c":0,"o":-8},{"x":82.5,"c":0,"o":2},{"x":82.75,"c":0,"o":4},{"x":83,"c":0,"o":-6},{"x":83.25,"c":0,"o":7},{"x":83.5,"c":0,"o":-3},{"x":83.75,"c":0,"o":-8},{"x":84,"c":0,"o":9},{"x":84.25,"c":0,"o":0},{"x":84.5,"c":0,"o":-5},{"x":84.75,"c":0,"o":3},{"x":85,"c":0,"o":-9},{"x":85.25,"c":0,"o":6},{"x":85.5,"c":0,"o":-2},{"x":85.75,"c":0,"o":4},{"x":86,"c":0,"o":4},{"x":86.12,"c":3,"o":-2},{"x":86.24,"c":8,"o":11},{"x":86.33,"c":14,"o":19},{"x":86.42,"c":7,"o":9},{"x":86.55,"c":2,"o":-3},{"x":86.75,"c":0,"o":9},{"x":87,"c":0,"o":-3},{"x":87.25,"c":0,"o":-8},{"x":87.5,"c":0,"o":2},{"x":87.75,"c":0,"o":8},{"x":88,"c":0,"o":-4},{"x":88.25,"c":0,"o":3},{"x":88.5,"c":0,"o":-9},{"x":88.7,"c":2,"o":8},{"x":88.82,"c":4,"o":9},{"x":88.95,"c":2,"o":-2},{"x":89.25,"c":0,"o":-6},{"x":89.5,"c":0,"o":6},{"x":89.75,"c":0,"o":0},{"x":90,"c":0,"o":-10}],
"pA": [{"x":15,"c":0,"o":2},{"x":15.25,"c":0,"o":-4},{"x":15.5,"c":0,"o":5},{"x":15.75,"c":0,"o":-1},{"x":16,"c":0,"o":-5},{"x":16.25,"c":0,"o":1},{"x":16.5,"c":0,"o":4},{"x":16.75,"c":0,"o":-3},{"x":17,"c":0,"o":2},{"x":17.25,"c":0,"o":-6},{"x":17.5,"c":0,"o":5},{"x":17.75,"c":0,"o":-1},{"x":18,"c":0,"o":-3},{"x":18.25,"c":0,"o":4},{"x":18.5,"c":0,"o":0},{"x":18.75,"c":0,"o":-6},{"x":19,"c":0,"o":3},{"x":19.25,"c":0,"o":-2},{"x":19.5,"c":0,"o":4},{"x":19.75,"c":0,"o":-4},{"x":20,"c":0,"o":1},{"x":20.25,"c":0,"o":5},{"x":20.5,"c":0,"o":-2},{"x":20.6,"c":1,"o":-1},{"x":20.75,"c":5,"o":8},{"x":20.85,"c":11,"o":19},{"x":20.95,"c":5,"o":7},{"x":21.1,"c":1,"o":3},{"x":21.25,"c":0,"o":-5},{"x":21.5,"c":0,"o":1},{"x":21.75,"c":0,"o":2},{"x":21.95,"c":2,"o":-2},{"x":22.11,"c":6,"o":9},{"x":22.25,"c":2,"o":4},{"x":22.5,"c":0,"o":-2},{"x":22.75,"c":0,"o":-5},{"x":23,"c":0,"o":5},{"x":23.25,"c":0,"o":0},{"x":23.5,"c":0,"o":-3},{"x":23.6,"c":2,"o":4},{"x":23.72,"c":8,"o":10},{"x":23.85,"c":2,"o":1},{"x":24,"c":0,"o":2},{"x":24.25,"c":0,"o":-5},{"x":24.5,"c":0,"o":3},{"x":24.75,"c":0,"o":-1},{"x":25,"c":0,"o":2},{"x":25.25,"c":0,"o":-4},{"x":25.5,"c":0,"o":5},{"x":25.75,"c":0,"o":-1},{"x":26,"c":0,"o":-5},{"x":26.25,"c":0,"o":1},{"x":26.5,"c":0,"o":4},{"x":26.75,"c":0,"o":-3},{"x":27,"c":0,"o":2},{"x":27.25,"c":0,"o":-6},{"x":27.5,"c":0,"o":5},{"x":27.75,"c":0,"o":-1},{"x":28,"c":0,"o":-3},{"x":28.25,"c":0,"o":4},{"x":28.5,"c":0,"o":0},{"x":28.75,"c":0,"o":-6},{"x":29,"c":0,"o":3},{"x":29.25,"c":0,"o":-2},{"x":29.5,"c":0,"o":4},{"x":29.75,"c":0,"o":-4},{"x":30,"c":0,"o":1},{"x":30.25,"c":0,"o":5},{"x":30.5,"c":1,"o":-1},{"x":30.63,"c":2.5,"o":6},{"x":30.75,"c":1,"o":-2},{"x":31,"c":0,"o":3},{"x":31.25,"c":0,"o":-5},{"x":31.5,"c":0,"o":1},{"x":31.75,"c":0,"o":2},{"x":32,"c":0,"o":-4},{"x":32.25,"c":0,"o":4},{"x":32.5,"c":0,"o":-2},{"x":32.75,"c":0,"o":-5},{"x":33,"c":0,"o":5},{"x":33.25,"c":0,"o":0},{"x":33.5,"c":0,"o":-3},{"x":33.75,"c":0,"o":2},{"x":34,"c":0,"o":-5},{"x":34.25,"c":0,"o":3},{"x":34.5,"c":0,"o":-1},{"x":34.75,"c":0,"o":2},{"x":35,"c":0,"o":2},{"x":35.25,"c":0,"o":-4},{"x":35.5,"c":0,"o":5},{"x":35.75,"c":0,"o":-1},{"x":36,"c":0,"o":-5},{"x":36.2,"c":0,"o":1},{"x":36.3,"c":1,"o":-2},{"x":36.45,"c":5,"o":8},{"x":36.55,"c":18,"o":21},{"x":36.6,"c":40,"o":44},{"x":36.64,"c":67,"o":83},{"x":36.68,"c":40,"o":43},{"x":36.73,"c":18,"o":20},{"x":36.83,"c":5,"o":3},{"x":37,"c":1,"o":5},{"x":37.25,"c":0,"o":-3},{"x":37.5,"c":0,"o":2},{"x":37.75,"c":0,"o":-6},{"x":38,"c":0,"o":5},{"x":38.25,"c":0,"o":-1},{"x":38.5,"c":0,"o":-3},{"x":38.75,"c":0,"o":4},{"x":39,"c":0,"o":0},{"x":39.25,"c":0,"o":-6},{"x":39.5,"c":2,"o":5},{"x":39.65,"c":7,"o":9},{"x":39.75,"c":30,"o":34},{"x":39.8,"c":75,"o":80},{"x":39.85,"c":142,"o":147},{"x":39.9,"c":75,"o":79},{"x":39.95,"c":30,"o":33},{"x":40.05,"c":7,"o":4},{"x":40.2,"c":2,"o":6},{"x":40.5,"c":0,"o":-2},{"x":40.75,"c":0,"o":4},{"x":41,"c":0,"o":-4},{"x":41.25,"c":0,"o":1},{"x":41.5,"c":1,"o":6},{"x":41.75,"c":1,"o":-1},{"x":42,"c":2,"o":0},{"x":42.25,"c":3,"o":7},{"x":42.4,"c":9,"o":12},{"x":42.5,"c":22,"o":25},{"x":42.56,"c":32,"o":36},{"x":42.62,"c":22,"o":24},{"x":42.75,"c":10,"o":13},{"x":42.9,"c":10,"o":7},{"x":43.02,"c":30,"o":33},{"x":43.1,"c":80,"o":86},{"x":43.16,"c":160,"o":168},{"x":43.21,"c":235,"o":237},{"x":43.26,"c":160,"o":165},{"x":43.32,"c":80,"o":84},{"x":43.42,"c":28,"o":31},{"x":43.55,"c":13,"o":10},{"x":43.67,"c":10,"o":14},{"x":43.8,"c":14,"o":11},{"x":43.92,"c":32,"o":36},{"x":44,"c":80,"o":85},{"x":44.07,"c":150,"o":160},{"x":44.13,"c":218,"o":242},{"x":44.19,"c":150,"o":158},{"x":44.26,"c":75,"o":79},{"x":44.35,"c":28,"o":30},{"x":44.5,"c":11,"o":15},{"x":44.7,"c":8,"o":5},{"x":44.9,"c":12,"o":15},{"x":45.05,"c":20,"o":22},{"x":45.14,"c":33,"o":35},{"x":45.2,"c":42,"o":42},{"x":45.26,"c":30,"o":33},{"x":45.35,"c":14,"o":12},{"x":45.5,"c":4,"o":8},{"x":45.7,"c":1,"o":-1},{"x":46,"c":0,"o":5},{"x":46.25,"c":0,"o":-1},{"x":46.5,"c":0,"o":-5},{"x":46.75,"c":0,"o":1},{"x":47,"c":0,"o":4},{"x":47.25,"c":0,"o":-3},{"x":47.5,"c":0,"o":2},{"x":47.75,"c":0,"o":-6},{"x":48,"c":0,"o":5},{"x":48.15,"c":2,"o":0},{"x":48.3,"c":7,"o":10},{"x":48.4,"c":22,"o":25},{"x":48.45,"c":33,"o":36},{"x":48.49,"c":45,"o":53},{"x":48.54,"c":33,"o":35},{"x":48.6,"c":18,"o":20},{"x":48.7,"c":6,"o":3},{"x":48.85,"c":2,"o":6},{"x":49,"c":0,"o":-3},{"x":49.25,"c":0,"o":4},{"x":49.5,"c":0,"o":0},{"x":49.75,"c":0,"o":-6},{"x":49.95,"c":0,"o":3},{"x":50.05,"c":3,"o":1},{"x":50.18,"c":9,"o":13},{"x":50.29,"c":20,"o":32},{"x":50.4,"c":9,"o":12},{"x":50.55,"c":3,"o":-1},{"x":50.75,"c":0,"o":4},{"x":51,"c":0,"o":-4},{"x":51.25,"c":0,"o":1},{"x":51.5,"c":0,"o":5},{"x":51.75,"c":0,"o":-2},{"x":52,"c":0,"o":-1},{"x":52.25,"c":0,"o":3},{"x":52.5,"c":0,"o":-5},{"x":52.75,"c":0,"o":1},{"x":53,"c":0,"o":2},{"x":53.25,"c":0,"o":-4},{"x":53.5,"c":0,"o":4},{"x":53.75,"c":0,"o":-2},{"x":54,"c":0,"o":-5},{"x":54.25,"c":0,"o":5},{"x":54.5,"c":0,"o":0},{"x":54.75,"c":0,"o":-3},{"x":55,"c":0,"o":2},{"x":55.1,"c":3,"o":0},{"x":55.18,"c":7,"o":10},{"x":55.25,"c":12,"o":15},{"x":55.33,"c":6,"o":8},{"x":55.45,"c":2,"o":-1},{"x":55.75,"c":0,"o":-5},{"x":56,"c":0,"o":3},{"x":56.25,"c":0,"o":-1},{"x":56.5,"c":0,"o":2},{"x":56.75,"c":0,"o":2},{"x":57,"c":0,"o":-4},{"x":57.25,"c":0,"o":5},{"x":57.4,"c":2,"o":4},{"x":57.5,"c":5,"o":7},{"x":57.6,"c":2,"o":-1},{"x":57.75,"c":0,"o":-1},{"x":58,"c":0,"o":-5},{"x":58.25,"c":0,"o":1},{"x":58.5,"c":0,"o":4},{"x":58.75,"c":0,"o":-3},{"x":59,"c":0,"o":2},{"x":59.25,"c":0,"o":-6},{"x":59.5,"c":0,"o":5},{"x":59.75,"c":0,"o":-1},{"x":60,"c":0,"o":-3},{"x":60.25,"c":0,"o":4},{"x":60.5,"c":0,"o":0},{"x":60.75,"c":0,"o":-6},{"x":61,"c":0,"o":3},{"x":61.25,"c":0,"o":-2},{"x":61.5,"c":0,"o":4},{"x":61.75,"c":0,"o":-4},{"x":61.9,"c":2,"o":4},{"x":62,"c":5,"o":8},{"x":62.1,"c":2,"o":0},{"x":62.25,"c":0,"o":1},{"x":62.5,"c":0,"o":5},{"x":62.75,"c":0,"o":-2},{"x":63,"c":0,"o":-1},{"x":63.25,"c":0,"o":3},{"x":63.5,"c":0,"o":-5},{"x":63.75,"c":0,"o":1},{"x":63.9,"c":4,"o":7},{"x":64.05,"c":0,"o":2},{"x":64.25,"c":0,"o":-4},{"x":64.5,"c":0,"o":4},{"x":64.75,"c":0,"o":-2},{"x":65,"c":0,"o":-5},{"x":65.25,"c":0,"o":5},{"x":65.5,"c":0,"o":0},{"x":65.75,"c":0,"o":-3},{"x":65.88,"c":3,"o":6},{"x":65.96,"c":6,"o":9},{"x":66.03,"c":10,"o":20},{"x":66.1,"c":5,"o":7},{"x":66.2,"c":2,"o":-1},{"x":66.5,"c":0,"o":2},{"x":66.75,"c":0,"o":-5},{"x":67,"c":0,"o":3},{"x":67.25,"c":0,"o":-1},{"x":67.5,"c":0,"o":2},{"x":67.75,"c":0,"o":2},{"x":67.9,"c":2,"o":-2},{"x":68.05,"c":8,"o":11},{"x":68.15,"c":25,"o":28},{"x":68.2,"c":38,"o":42},{"x":68.25,"c":53,"o":62},{"x":68.3,"c":38,"o":41},{"x":68.36,"c":22,"o":25},{"x":68.45,"c":8,"o":6},{"x":68.6,"c":2,"o":5},{"x":68.75,"c":0,"o":-4},{"x":69,"c":0,"o":5},{"x":69.25,"c":0,"o":-1},{"x":69.5,"c":0,"o":-5},{"x":69.75,"c":0,"o":1},{"x":70,"c":0,"o":4},{"x":70.2,"c":2,"o":-1},{"x":70.35,"c":8,"o":11},{"x":70.45,"c":25,"o":27},{"x":70.5,"c":38,"o":41},{"x":70.54,"c":53,"o":55},{"x":70.59,"c":38,"o":40},{"x":70.65,"c":22,"o":24},{"x":70.75,"c":8,"o":5},{"x":70.9,"c":2,"o":4},{"x":71,"c":0,"o":-3},{"x":71.25,"c":0,"o":2},{"x":71.5,"c":0,"o":-6},{"x":71.75,"c":0,"o":5},{"x":72,"c":0,"o":-1},{"x":72.25,"c":0,"o":-3},{"x":72.5,"c":0,"o":4},{"x":72.75,"c":0,"o":0},{"x":73,"c":0,"o":-6},{"x":73.25,"c":0,"o":3},{"x":73.5,"c":0,"o":-2},{"x":73.75,"c":2,"o":5},{"x":73.9,"c":8,"o":10},{"x":74,"c":27,"o":30},{"x":74.05,"c":42,"o":45},{"x":74.09,"c":59,"o":60},{"x":74.14,"c":42,"o":44},{"x":74.2,"c":24,"o":27},{"x":74.3,"c":8,"o":6},{"x":74.45,"c":2,"o":5},{"x":74.75,"c":0,"o":-4},{"x":75,"c":0,"o":1},{"x":75.25,"c":0,"o":5},{"x":75.5,"c":0,"o":-2},{"x":75.8,"c":3,"o":1},{"x":75.9,"c":8,"o":11},{"x":75.97,"c":15,"o":22},{"x":76.05,"c":7,"o":9},{"x":76.15,"c":2,"o":-1},{"x":76.3,"c":0,"o":3},{"x":76.5,"c":0,"o":-5},{"x":76.75,"c":0,"o":1},{"x":77,"c":0,"o":2},{"x":77.25,"c":0,"o":-4},{"x":77.5,"c":0,"o":4},{"x":77.7,"c":2,"o":-1},{"x":77.85,"c":8,"o":10},{"x":77.95,"c":25,"o":28},{"x":78,"c":40,"o":43},{"x":78.04,"c":57,"o":59},{"x":78.09,"c":40,"o":42},{"x":78.15,"c":22,"o":25},{"x":78.25,"c":8,"o":5},{"x":78.4,"c":2,"o":6},{"x":78.55,"c":0,"o":-2},{"x":78.75,"c":0,"o":-5},{"x":79,"c":0,"o":5},{"x":79.25,"c":0,"o":0},{"x":79.5,"c":0,"o":-3},{"x":79.75,"c":0,"o":2},{"x":80,"c":0,"o":-5},{"x":80.25,"c":0,"o":3},{"x":80.5,"c":0,"o":-1},{"x":80.75,"c":0,"o":2},{"x":81,"c":0,"o":2},{"x":81.25,"c":0,"o":-4},{"x":81.5,"c":0,"o":5},{"x":81.75,"c":0,"o":-1},{"x":82,"c":0,"o":-5},{"x":82.1,"c":2,"o":3},{"x":82.2,"c":4,"o":7},{"x":82.3,"c":2,"o":0},{"x":82.5,"c":0,"o":4},{"x":82.75,"c":0,"o":-3},{"x":83,"c":0,"o":2},{"x":83.25,"c":0,"o":-6},{"x":83.5,"c":0,"o":5},{"x":83.75,"c":0,"o":-1},{"x":84,"c":0,"o":-3},{"x":84.25,"c":0,"o":4},{"x":84.5,"c":0,"o":0},{"x":84.75,"c":0,"o":-6},{"x":85,"c":0,"o":3},{"x":85.25,"c":0,"o":-2},{"x":85.5,"c":0,"o":4},{"x":85.75,"c":3,"o":0},{"x":85.87,"c":9,"o":12},{"x":85.95,"c":18,"o":27},{"x":86.03,"c":9,"o":11},{"x":86.15,"c":3,"o":1},{"x":86.3,"c":0,"o":5},{"x":86.5,"c":0,"o":-2},{"x":86.75,"c":0,"o":-1},{"x":87,"c":0,"o":3},{"x":87.25,"c":0,"o":-5},{"x":87.5,"c":0,"o":1},{"x":87.75,"c":0,"o":2},{"x":88,"c":0,"o":-4},{"x":88.2,"c":0,"o":4},{"x":88.33,"c":2,"o":0},{"x":88.43,"c":6,"o":9},{"x":88.53,"c":2,"o":4},{"x":88.75,"c":0,"o":-2},{"x":89,"c":0,"o":-5},{"x":89.25,"c":0,"o":5},{"x":89.5,"c":0,"o":0},{"x":89.75,"c":0,"o":-3},{"x":90,"c":0,"o":2}],
"tA": [{"p":1,"x":20.93},{"p":1,"x":22.1},{"p":1,"x":23.7},{"p":1,"x":30.6},{"p":1,"x":36.7},{"p":1,"x":39.9},{"p":1,"x":42.6},{"p":1,"x":43.3},{"p":1,"x":44.2},{"p":1,"x":45.2},{"p":1,"x":48.6},{"p":1,"x":50.4},{"p":1,"x":55.33},{"p":1,"x":57.47},{"p":1,"x":58.69},{"p":1,"x":59.65},{"p":1,"x":61.94},{"p":1,"x":62.44},{"p":1,"x":63.97},{"p":1,"x":66.15},{"p":1,"x":67.29},{"p":1,"x":68.33},{"p":1,"x":70.54},{"p":1,"x":70.73},{"p":1,"x":74.29},{"p":1,"x":74.55},{"p":1,"x":75.97},{"p":1,"x":76.35},{"p":1,"x":78.11},{"p":1,"x":82.0},{"p":1,"x":82.4},{"p":1,"x":82.8},{"p":1,"x":83.1},{"p":1,"x":83.5},{"p":1,"x":83.8},{"p":1,"x":85.8},{"p":1,"x":86.1},{"p":1,"x":86.4},{"p":1,"x":88.6}],
"tC": [{"p":1,"x":20.93},{"p":1,"x":22.0},{"p":1,"x":23.6},{"p":1,"x":30.52},{"p":1,"x":36.6},{"p":1,"x":39.66},{"p":1,"x":42.45},{"p":1,"x":43.02},{"p":1,"x":43.98},{"p":1,"x":45.0},{"p":1,"x":48.37},{"p":1,"x":50.1},{"p":1,"x":55.06},{"p":1,"x":57.28},{"p":1,"x":58.5},{"p":1,"x":59.38},{"p":1,"x":61.67},{"p":1,"x":62.25},{"p":1,"x":63.78},{"p":1,"x":65.95},{"p":1,"x":67.1},{"p":1,"x":68.13},{"p":1,"x":70.28},{"p":1,"x":70.54},{"p":1,"x":73.91},{"p":1,"x":74.17},{"p":1,"x":75.7},{"p":1,"x":76.0},{"p":1,"x":77.92},{"p":1,"x":81.65},{"p":1,"x":82.0},{"p":1,"x":82.4},{"p":1,"x":82.75},{"p":1,"x":83.1},{"p":1,"x":83.5},{"p":1,"x":85.38},{"p":1,"x":85.6},{"p":1,"x":85.95},{"p":1,"x":88.1},
{"p":2,"x":15.19},{"p":2,"x":16.34},{"p":2,"x":17.41},{"p":2,"x":23.72},{"p":2,"x":24.29},{"p":2,"x":24.86},{"p":2,"x":25.63},{"p":2,"x":27.73},{"p":2,"x":28.04},{"p":2,"x":28.42},{"p":2,"x":28.96},{"p":2,"x":30.79},{"p":2,"x":31.86},{"p":2,"x":32.32},{"p":2,"x":32.97},{"p":2,"x":33.27},{"p":2,"x":33.66},{"p":2,"x":34.04},{"p":2,"x":34.61},{"p":2,"x":35.07},{"p":2,"x":36.44},{"p":2,"x":36.71},{"p":2,"x":36.98},{"p":2,"x":39.39},{"p":2,"x":39.65},{"p":2,"x":39.96},{"p":2,"x":40.26},{"p":2,"x":40.54},{"p":2,"x":40.84},{"p":2,"x":41.18},{"p":2,"x":42.14},{"p":2,"x":42.44},{"p":2,"x":43.33},
{"p":2,"x":44.93},{"p":2,"x":45.1},{"p":2,"x":45.28},{"p":2,"x":45.42},{"p":2,"x":45.6},{"p":2,"x":45.75},{"p":2,"x":45.93},{"p":2,"x":46.1},{"p":2,"x":46.24},{"p":2,"x":46.41},{"p":2,"x":46.6},{"p":2,"x":46.75},{"p":2,"x":46.92},{"p":2,"x":47.1},{"p":2,"x":47.26},{"p":2,"x":47.43},{"p":2,"x":47.6},{"p":2,"x":47.77},{"p":2,"x":47.93},{"p":2,"x":48.1},{"p":2,"x":48.28},{"p":2,"x":48.45},{"p":2,"x":48.6},{"p":2,"x":48.78},{"p":2,"x":48.95},{"p":2,"x":49.12},{"p":2,"x":49.3},{"p":2,"x":49.45},{"p":2,"x":49.62},{"p":2,"x":49.8},{"p":2,"x":49.96},{"p":2,"x":50.13},{"p":2,"x":50.3},{"p":2,"x":50.47},{"p":2,"x":50.63},{"p":2,"x":50.8},{"p":2,"x":50.97},{"p":2,"x":51.15},{"p":2,"x":51.31},{"p":2,"x":51.48},{"p":2,"x":51.65},{"p":2,"x":51.82},{"p":2,"x":52.0},{"p":2,"x":52.16},{"p":2,"x":52.33},{"p":2,"x":52.5},{"p":2,"x":52.67},{"p":2,"x":52.84},{"p":2,"x":53.0},{"p":2,"x":53.18},{"p":2,"x":53.35},{"p":2,"x":53.52},{"p":2,"x":53.7},{"p":2,"x":53.86},{"p":2,"x":54.3},{"p":2,"x":54.7},{"p":2,"x":54.87},{"p":2,"x":55.03},{"p":2,"x":55.2},{"p":2,"x":55.37},{"p":2,"x":55.55},{"p":2,"x":55.72},{"p":2,"x":55.88},{"p":2,"x":56.05},{"p":2,"x":56.22},{"p":2,"x":56.4},{"p":2,"x":56.56},{"p":2,"x":56.73},{"p":2,"x":56.9},{"p":2,"x":57.08},{"p":2,"x":57.25},{"p":2,"x":57.41},{"p":2,"x":57.58},{"p":2,"x":57.76},{"p":2,"x":57.93},{"p":2,"x":58.1},{"p":2,"x":58.27},{"p":2,"x":58.43},{"p":2,"x":58.6},{"p":2,"x":58.78},{"p":2,"x":58.95},{"p":2,"x":59.12},{"p":2,"x":59.28},{"p":2,"x":59.68},{"p":2,"x":60.05},{"p":2,"x":60.22},{"p":2,"x":60.38},{"p":2,"x":60.55},{"p":2,"x":60.72},{"p":2,"x":60.9},{"p":2,"x":61.06},{"p":2,"x":61.23},{"p":2,"x":61.4},{"p":2,"x":61.57},{"p":2,"x":61.74},{"p":2,"x":61.9},{"p":2,"x":62.07},{"p":2,"x":62.25},{"p":2,"x":62.42},{"p":2,"x":62.58},{"p":2,"x":62.75},{"p":2,"x":62.92},{"p":2,"x":63.1},{"p":2,"x":63.26},{"p":2,"x":63.43},{"p":2,"x":63.6},{"p":2,"x":63.77},{"p":2,"x":63.94},{"p":2,"x":64.1},{"p":2,"x":64.27},{"p":2,"x":64.45},{"p":2,"x":64.62},{"p":2,"x":64.78},{"p":2,"x":64.95},{"p":2,"x":65.12},{"p":2,"x":65.3},{"p":2,"x":65.46},{"p":2,"x":65.63},{"p":2,"x":65.8},{"p":2,"x":65.97},{"p":2,"x":66.14},{"p":2,"x":66.3},{"p":2,"x":66.48},{"p":2,"x":66.65},{"p":2,"x":66.82},{"p":2,"x":66.98},{"p":2,"x":67.15},{"p":2,"x":67.32},{"p":2,"x":67.48},{"p":2,"x":67.7},{"p":2,"x":67.9},{"p":2,"x":68.07},{"p":2,"x":68.25},{"p":2,"x":68.42},{"p":2,"x":68.58},{"p":2,"x":68.75},{"p":2,"x":68.92},{"p":2,"x":69.1},{"p":2,"x":69.26},{"p":2,"x":69.43},{"p":2,"x":69.6},{"p":2,"x":69.77},{"p":2,"x":69.94},{"p":2,"x":70.1},{"p":2,"x":70.28},{"p":2,"x":70.45},{"p":2,"x":70.62},{"p":2,"x":70.78},{"p":2,"x":70.95},{"p":2,"x":71.12},{"p":2,"x":71.3},{"p":2,"x":71.46},{"p":2,"x":71.63},{"p":2,"x":71.8},{"p":2,"x":71.97},{"p":2,"x":72.14},{"p":2,"x":72.3},{"p":2,"x":72.48},{"p":2,"x":72.65},{"p":2,"x":72.82},{"p":2,"x":72.98},{"p":2,"x":73.15},{"p":2,"x":73.32},{"p":2,"x":73.5},{"p":2,"x":73.66},{"p":2,"x":73.83},{"p":2,"x":74.0},{"p":2,"x":74.17},{"p":2,"x":74.34},{"p":2,"x":74.5},{"p":2,"x":74.68},{"p":2,"x":74.85},{"p":2,"x":75.02},{"p":2,"x":75.18},{"p":2,"x":75.35},{"p":2,"x":75.52},{"p":2,"x":75.7},{"p":2,"x":75.86},{"p":2,"x":76.03},{"p":2,"x":76.2},{"p":2,"x":76.37},{"p":2,"x":76.54},{"p":2,"x":76.7},{"p":2,"x":76.88},{"p":2,"x":77.05},{"p":2,"x":77.22},{"p":2,"x":77.38},{"p":2,"x":77.55},{"p":2,"x":77.72},{"p":2,"x":77.9},{"p":2,"x":78.06},{"p":2,"x":78.23},{"p":2,"x":78.4},{"p":2,"x":78.57},{"p":2,"x":78.74},{"p":2,"x":78.9},{"p":2,"x":79.08},{"p":2,"x":79.25},{"p":2,"x":79.42},{"p":2,"x":79.58},{"p":2,"x":79.75},{"p":2,"x":79.92},{"p":2,"x":80.1},{"p":2,"x":80.26},{"p":2,"x":80.43},{"p":2,"x":80.6},{"p":2,"x":80.77},{"p":2,"x":80.94},{"p":2,"x":81.1},{"p":2,"x":81.28},{"p":2,"x":81.45},{"p":2,"x":81.62},{"p":2,"x":81.78},{"p":2,"x":81.95},{"p":2,"x":82.12},{"p":2,"x":82.3},{"p":2,"x":82.46},{"p":2,"x":82.63},{"p":2,"x":82.8},{"p":2,"x":82.97},{"p":2,"x":83.14},{"p":2,"x":83.3},{"p":2,"x":83.48},{"p":2,"x":83.65},{"p":2,"x":83.82},{"p":2,"x":83.98},{"p":2,"x":84.15},{"p":2,"x":84.32},{"p":2,"x":84.5},{"p":2,"x":84.66},{"p":2,"x":84.83},{"p":2,"x":85.0},{"p":2,"x":85.17},{"p":2,"x":85.34},{"p":2,"x":85.5},{"p":2,"x":85.68},{"p":2,"x":85.85},{"p":2,"x":86.02},{"p":2,"x":86.18},{"p":2,"x":86.35},{"p":2,"x":86.52},{"p":2,"x":86.7},{"p":2,"x":86.86},{"p":2,"x":87.03},{"p":2,"x":87.2},{"p":2,"x":87.37},{"p":2,"x":87.54},{"p":2,"x":87.7},{"p":2,"x":87.88},{"p":2,"x":88.05},{"p":2,"x":88.22},{"p":2,"x":88.38},{"p":2,"x":88.55},{"p":2,"x":88.72},{"p":2,"x":88.9},{"p":2,"x":89.06},{"p":2,"x":89.23},{"p":2,"x":89.4},{"p":2,"x":89.57},{"p":2,"x":89.74},{"p":2,"x":89.9}],
"tB": [{"p":1,"x":20.96},{"p":1,"x":22.11},{"p":1,"x":23.8},{"p":1,"x":30.71},{"p":1,"x":36.79},{"p":1,"x":39.97},{"p":1,"x":42.72},{"p":1,"x":43.4},{"p":1,"x":44.28},{"p":1,"x":45.39},{"p":1,"x":48.68},{"p":1,"x":50.55},{"p":1,"x":55.45},{"p":1,"x":57.66},{"p":1,"x":58.89},{"p":1,"x":59.84},{"p":1,"x":62.05},{"p":1,"x":62.63},{"p":1,"x":64.12},{"p":1,"x":66.34},{"p":1,"x":67.49},{"p":1,"x":68.52},{"p":1,"x":70.81},{"p":1,"x":71.0},{"p":1,"x":74.44},{"p":1,"x":74.67},{"p":1,"x":76.28},{"p":1,"x":76.55},{"p":1,"x":78.38},{"p":1,"x":82.14},{"p":1,"x":82.5},{"p":1,"x":82.9},{"p":1,"x":83.3},{"p":1,"x":83.7},{"p":1,"x":84.1},{"p":1,"x":86.0},{"p":1,"x":86.4},{"p":1,"x":86.8},{"p":1,"x":88.9},
{"p":2,"x":24.67},{"p":2,"x":30.33},{"p":2,"x":33.2},{"p":2,"x":35.3},{"p":2,"x":36.9},{"p":2,"x":37.74},{"p":2,"x":39.96},{"p":2,"x":42.25},{"p":2,"x":43.5},{"p":2,"x":44.55},{"p":2,"x":49.32},{"p":2,"x":50.58},{"p":2,"x":52.0},{"p":2,"x":52.96},{"p":2,"x":53.42},{"p":2,"x":53.91},{"p":2,"x":54.49},{"p":2,"x":55.06},{"p":2,"x":57.63},{"p":2,"x":59.65},{"p":2,"x":60.53},{"p":2,"x":62.63},{"p":2,"x":63.2},{"p":2,"x":65.0},{"p":2,"x":66.53},{"p":2,"x":67.49},{"p":2,"x":68.06},{"p":2,"x":68.64},{"p":2,"x":69.78},{"p":2,"x":70.08},{"p":2,"x":70.47},{"p":2,"x":71.31},{"p":2,"x":72.65},{"p":2,"x":74.75},{"p":2,"x":75.82},{"p":2,"x":77.35},{"p":2,"x":77.61},{"p":2,"x":77.92},{"p":2,"x":78.19},{"p":2,"x":78.57},{"p":2,"x":78.95},{"p":2,"x":79.34},{"p":2,"x":79.72},{"p":2,"x":80.56},{"p":2,"x":80.86},{"p":2,"x":81.43},{"p":2,"x":81.71},{"p":2,"x":82.09},{"p":2,"x":82.47},{"p":2,"x":82.87},{"p":2,"x":83.74},{"p":2,"x":84.12},{"p":2,"x":84.5},{"p":2,"x":84.89},{"p":2,"x":86.41},{"p":2,"x":86.98},{"p":2,"x":87.94},{"p":2,"x":88.32},{"p":2,"x":88.7},{"p":2,"x":89.08},{"p":2,"x":89.46},
{"p":3,"x":15.42},{"p":3,"x":17.98},{"p":3,"x":23.83},{"p":3,"x":24.37},{"p":3,"x":24.94},{"p":3,"x":25.51},{"p":3,"x":27.92},{"p":3,"x":28.3},{"p":3,"x":28.68},{"p":3,"x":29.07},{"p":3,"x":31.17},{"p":3,"x":32.0},{"p":3,"x":32.32},{"p":3,"x":32.62},{"p":3,"x":32.89},{"p":3,"x":33.46},{"p":3,"x":33.77},{"p":3,"x":34.04},{"p":3,"x":34.53},{"p":3,"x":34.92},{"p":3,"x":35.38},{"p":3,"x":36.07},{"p":3,"x":36.52},{"p":3,"x":36.9},{"p":3,"x":37.1},{"p":3,"x":39.77},{"p":3,"x":40.0},{"p":3,"x":40.25},{"p":3,"x":40.5},{"p":3,"x":40.7},{"p":3,"x":40.95},{"p":3,"x":41.2},{"p":3,"x":41.45},{"p":3,"x":42.26},{"p":3,"x":42.64},{"p":3,"x":43.02},{"p":3,"x":43.41},{"p":3,"x":44.47},
{"p":3,"x":45.75},{"p":3,"x":45.93},{"p":3,"x":46.1},{"p":3,"x":46.24},{"p":3,"x":46.41},{"p":3,"x":46.6},{"p":3,"x":46.75},{"p":3,"x":46.92},{"p":3,"x":47.1},{"p":3,"x":47.26},{"p":3,"x":47.43},{"p":3,"x":47.6},{"p":3,"x":47.77},{"p":3,"x":47.93},{"p":3,"x":48.1},{"p":3,"x":48.28},{"p":3,"x":48.45},{"p":3,"x":48.6},{"p":3,"x":48.78},{"p":3,"x":48.95},{"p":3,"x":49.12},{"p":3,"x":49.3},{"p":3,"x":49.45},{"p":3,"x":49.62},{"p":3,"x":49.8},{"p":3,"x":49.96},{"p":3,"x":50.13},{"p":3,"x":50.3},{"p":3,"x":50.47},{"p":3,"x":50.63},{"p":3,"x":50.8},{"p":3,"x":50.97},{"p":3,"x":51.15},{"p":3,"x":51.31},{"p":3,"x":51.48},{"p":3,"x":51.65},{"p":3,"x":51.82},{"p":3,"x":52.0},{"p":3,"x":52.16},{"p":3,"x":52.33},{"p":3,"x":52.5},{"p":3,"x":52.67},{"p":3,"x":52.84},{"p":3,"x":53.0},{"p":3,"x":53.18},{"p":3,"x":53.35},{"p":3,"x":53.52},{"p":3,"x":53.7},{"p":3,"x":53.86},{"p":3,"x":54.3},{"p":3,"x":54.7},{"p":3,"x":54.87},{"p":3,"x":55.03},{"p":3,"x":55.2},{"p":3,"x":55.37},{"p":3,"x":55.55},{"p":3,"x":55.72},{"p":3,"x":55.88},{"p":3,"x":56.05},{"p":3,"x":56.22},{"p":3,"x":56.4},{"p":3,"x":56.56},{"p":3,"x":56.73},{"p":3,"x":56.9},{"p":3,"x":57.08},{"p":3,"x":57.25},{"p":3,"x":57.41},{"p":3,"x":57.58},{"p":3,"x":57.76},{"p":3,"x":57.93},{"p":3,"x":58.1},{"p":3,"x":58.27},{"p":3,"x":58.43},{"p":3,"x":58.6},{"p":3,"x":58.78},{"p":3,"x":58.95},{"p":3,"x":59.12},{"p":3,"x":59.28},{"p":3,"x":59.68},{"p":3,"x":60.05},{"p":3,"x":60.22},{"p":3,"x":60.38},{"p":3,"x":60.55},{"p":3,"x":60.72},{"p":3,"x":60.9},{"p":3,"x":61.06},{"p":3,"x":61.23},{"p":3,"x":61.4},{"p":3,"x":61.57},{"p":3,"x":61.74},{"p":3,"x":61.9},{"p":3,"x":62.07},{"p":3,"x":62.25},{"p":3,"x":62.42},{"p":3,"x":62.58},{"p":3,"x":62.75},{"p":3,"x":62.92},{"p":3,"x":63.1},{"p":3,"x":63.26},{"p":3,"x":63.43},{"p":3,"x":63.6},{"p":3,"x":63.77},{"p":3,"x":63.94},{"p":3,"x":64.1},{"p":3,"x":64.27},{"p":3,"x":64.45},{"p":3,"x":64.62},{"p":3,"x":64.78},{"p":3,"x":64.95},{"p":3,"x":65.12},{"p":3,"x":65.3},{"p":3,"x":65.46},{"p":3,"x":65.63},{"p":3,"x":65.8},{"p":3,"x":65.97},{"p":3,"x":66.14},{"p":3,"x":66.3},{"p":3,"x":66.48},{"p":3,"x":66.65},{"p":3,"x":66.82},{"p":3,"x":66.98},{"p":3,"x":67.15},{"p":3,"x":67.32},{"p":3,"x":67.48},{"p":3,"x":67.7},{"p":3,"x":67.9},{"p":3,"x":68.07},{"p":3,"x":68.25},{"p":3,"x":68.42},{"p":3,"x":68.58},{"p":3,"x":68.75},{"p":3,"x":68.92},{"p":3,"x":69.1},{"p":3,"x":69.26},{"p":3,"x":69.43},{"p":3,"x":69.6},{"p":3,"x":69.77},{"p":3,"x":69.94},{"p":3,"x":70.1},{"p":3,"x":70.28},{"p":3,"x":70.45},{"p":3,"x":70.62},{"p":3,"x":70.78},{"p":3,"x":70.95},{"p":3,"x":71.12},{"p":3,"x":71.3},{"p":3,"x":71.46},{"p":3,"x":71.63},{"p":3,"x":71.8},{"p":3,"x":71.97},{"p":3,"x":72.14},{"p":3,"x":72.3},{"p":3,"x":72.48},{"p":3,"x":72.65},{"p":3,"x":72.82},{"p":3,"x":72.98},{"p":3,"x":73.15},{"p":3,"x":73.32},{"p":3,"x":73.5},{"p":3,"x":73.66},{"p":3,"x":73.83},{"p":3,"x":74.0},{"p":3,"x":74.17},{"p":3,"x":74.34},{"p":3,"x":74.5},{"p":3,"x":74.68},{"p":3,"x":74.85},{"p":3,"x":75.02},{"p":3,"x":75.18},{"p":3,"x":75.35},{"p":3,"x":75.52},{"p":3,"x":75.7},{"p":3,"x":75.86},{"p":3,"x":76.03},{"p":3,"x":76.2},{"p":3,"x":76.37},{"p":3,"x":76.54},{"p":3,"x":76.7},{"p":3,"x":76.88},{"p":3,"x":77.05},{"p":3,"x":77.22},{"p":3,"x":77.38},{"p":3,"x":77.55},{"p":3,"x":77.72},{"p":3,"x":77.9},{"p":3,"x":78.06},{"p":3,"x":78.23},{"p":3,"x":78.4},{"p":3,"x":78.57},{"p":3,"x":78.74},{"p":3,"x":78.9},{"p":3,"x":79.08},{"p":3,"x":79.25},{"p":3,"x":79.42},{"p":3,"x":79.58},{"p":3,"x":79.75},{"p":3,"x":79.92},{"p":3,"x":80.1},{"p":3,"x":80.26},{"p":3,"x":80.43},{"p":3,"x":80.6},{"p":3,"x":80.77},{"p":3,"x":80.94},{"p":3,"x":81.1},{"p":3,"x":81.28},{"p":3,"x":81.45},{"p":3,"x":81.62},{"p":3,"x":81.78},{"p":3,"x":81.95},{"p":3,"x":82.12},{"p":3,"x":82.3},{"p":3,"x":82.46},{"p":3,"x":82.63},{"p":3,"x":82.8},{"p":3,"x":82.97},{"p":3,"x":83.14},{"p":3,"x":83.3},{"p":3,"x":83.48},{"p":3,"x":83.65},{"p":3,"x":83.82},{"p":3,"x":83.98},{"p":3,"x":84.15},{"p":3,"x":84.32},{"p":3,"x":84.5},{"p":3,"x":84.66},{"p":3,"x":84.83},{"p":3,"x":85.0},{"p":3,"x":85.17},{"p":3,"x":85.34},{"p":3,"x":85.5},{"p":3,"x":85.68},{"p":3,"x":85.85},{"p":3,"x":86.02},{"p":3,"x":86.18},{"p":3,"x":86.35},{"p":3,"x":86.52},{"p":3,"x":86.7},{"p":3,"x":86.86},{"p":3,"x":87.03},{"p":3,"x":87.2},{"p":3,"x":87.37},{"p":3,"x":87.54},{"p":3,"x":87.7},{"p":3,"x":87.88},{"p":3,"x":88.05},{"p":3,"x":88.22},{"p":3,"x":88.38},{"p":3,"x":88.55},{"p":3,"x":88.72},{"p":3,"x":88.9},{"p":3,"x":89.06},{"p":3,"x":89.23},{"p":3,"x":89.4},{"p":3,"x":89.57},{"p":3,"x":89.74},{"p":3,"x":89.9}]
},
"config": {
  "view": {"stroke": "#000", "strokeWidth": 2.5},
  "font": "Liberation Sans",
  "axis": {"grid": false, "domain": false, "tickColor": "#000", "tickWidth": 1.8, "labelColor": "#000", "titleColor": "#000", "titleFontWeight": "normal"},
  "text": {"font": "Liberation Sans"}
}
}
